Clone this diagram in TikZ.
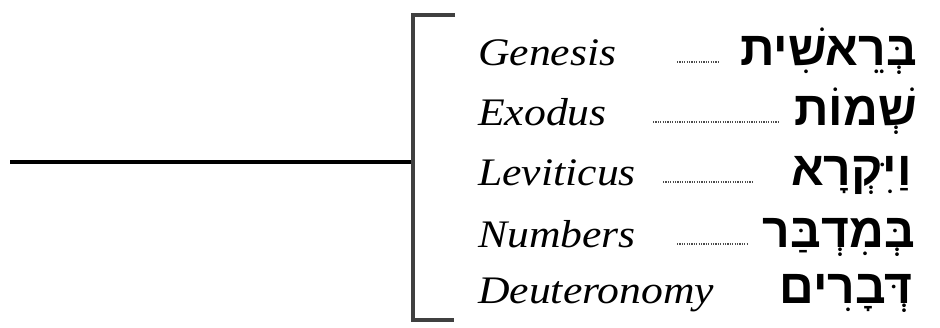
\documentclass[tikz,border=0pt]{standalone}
\usepackage{fontspec}
\TeXXeTstate=1
\newfontfamily\latinit[FakeStretch=1.12]{Liberation Serif}
\newfontfamily\hebfont[Script=Hebrew]{Liberation Sans}
\begin{document}
\begin{tikzpicture}[x=1pt,y=-1pt,
  eng/.style={anchor=base west,inner sep=0pt,font=\latinit\itshape\fontsize{39}{39}\selectfont},
  heb/.style={anchor=base east,inner sep=0pt,font=\hebfont\bfseries\fontsize{48}{48}\selectfont},
  leader/.style={draw=black!70,line width=2pt,dash pattern=on 1.2pt off 1.2pt},
  bracketline/.style={draw=black!75,line width=3.5pt},
  stemline/.style={draw=black,line width=4pt}]
\useasboundingbox (0,0) rectangle (940,327);
\coordinate (start) at (10,162);
\coordinate (junction) at (413,162);
\coordinate (btop) at (455,15);
\coordinate (bbot) at (454,320);
\draw[stemline] (start) -- (junction);
\draw[bracketline] (btop) -| (junction) |- (bbot);
\node[eng] (e1) at (478,65) {Genesis};
\node[eng] (e2) at (478,125) {Exodus};
\node[eng] (e3) at (478,185) {Leviticus};
\node[eng] (e4) at (478,247) {Numbers};
\node[eng] (e5) at (478,303) {Deuteronomy};
\node[heb] (h1) at (917,65) {\beginR בְּרֵאשִׁית\endR};
\node[heb] (h2) at (917,125) {\beginR שְׁמוֹת\endR};
\node[heb] (h3) at (912,185) {\beginR וַיִּקְרָא\endR};
\node[heb] (h4) at (915,247) {\beginR בְּמִדְבַּר\endR};
\node[heb] (h5) at (913,303) {\beginR דְּבָרִים\endR};
\draw[leader] (677,62) -- (720,62);
\draw[leader] (653,122) -- (780,122);
\draw[leader] (663,182) -- (753,182);
\draw[leader] (677,244) -- (747,244);
\end{tikzpicture}
\end{document}
